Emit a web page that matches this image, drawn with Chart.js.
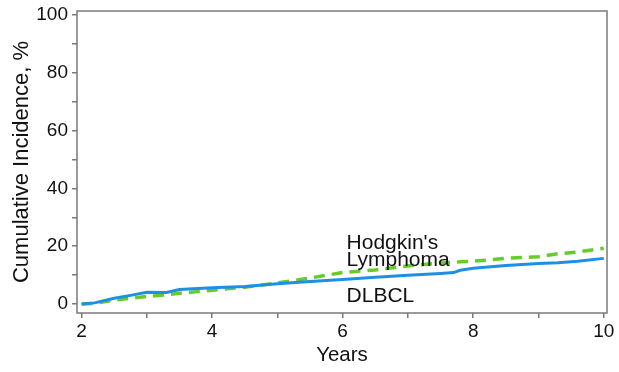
<!DOCTYPE html>
<html>
<head>
<meta charset="utf-8">
<script src="https://cdn.jsdelivr.net/npm/chart.js@4"></script>
<style>
  body { margin: 0; background: #fff; }
  canvas { display: block; }
</style>
</head>
<body>
<canvas id="incidenceChart" width="619" height="372"></canvas>
<script>
const years = [2, 2.2, 2.5, 2.75, 3, 3.3, 3.5, 4, 4.5, 5, 5.5, 6, 6.5, 7, 7.5, 7.7, 7.8, 8, 8.5, 9, 9.3, 9.6, 10];
const dlbcl = [0, 0.4, 2.0, 3.0, 4.1, 4.0, 5.0, 5.6, 6.1, 7.0, 7.8, 8.5, 9.3, 10.0, 10.6, 10.9, 11.7, 12.4, 13.3, 14.0, 14.3, 14.8, 15.8];
const hodgkin = [0, 0.2, 1.4, 2.0, 2.6, 3.2, 3.7, 4.8, 5.8, 7.3, 9.0, 10.9, 11.8, 13.2, 14.2, 14.4, 14.6, 14.8, 15.8, 16.4, 17.4, 18.0, 19.3];
const xTicks = [2, 3, 4, 5, 6, 7, 8, 9, 10];
const yTicks = [0, 10, 20, 30, 40, 50, 60, 70, 80, 90, 100];

const font = "'Liberation Sans', Arial, sans-serif";
const axisGrey = "#7a7a7a";

const toPoints = (vals) => years.map((x, i) => ({ x: x, y: vals[i] }));

// box around the plot, like the original
const frame = {
  id: "frame",
  beforeDatasetsDraw(chart) {
    const { ctx, chartArea: a } = chart;
    ctx.save();
    ctx.strokeStyle = axisGrey;
    ctx.lineWidth = 1.5;
    ctx.strokeRect(a.left, a.top, a.right - a.left, a.bottom - a.top);
    ctx.restore();
  },
};

// curve labels
const labels = {
  id: "labels",
  afterDatasetsDraw(chart) {
    const { ctx } = chart;
    const x = chart.scales.x;
    const y = chart.scales.y;
    ctx.save();
    ctx.fillStyle = "#111";
    ctx.font = "21px " + font;
    ctx.textBaseline = "middle";
    ctx.fillText("Hodgkin's", x.getPixelForValue(6.06), y.getPixelForValue(21.2));
    ctx.fillText("Lymphoma", x.getPixelForValue(6.06), y.getPixelForValue(15.0));
    ctx.fillText("DLBCL", x.getPixelForValue(6.06), y.getPixelForValue(2.6));
    ctx.restore();
  },
};

new Chart(document.getElementById("incidenceChart"), {
  type: "line",
  data: {
    datasets: [
      {
        label: "DLBCL",
        data: toPoints(dlbcl),
        borderColor: "#1e8fe6",
        borderWidth: 3,
        pointRadius: 0,
        tension: 0,
      },
      {
        label: "Hodgkin's Lymphoma",
        data: toPoints(hodgkin),
        borderColor: "#66cc2a",
        borderWidth: 3.5,
        borderDash: [11, 7],
        pointRadius: 0,
        tension: 0,
      },
    ],
  },
  options: {
    responsive: false,
    animation: false,
    layout: { padding: { top: 11, right: 12, left: 0, bottom: 0 } },
    plugins: { legend: { display: false }, tooltip: { enabled: false } },
    scales: {
      x: {
        type: "linear",
        min: 1.93,
        max: 10.05,
        afterBuildTicks: (s) => { s.ticks = xTicks.map((v) => ({ value: v })); },
        afterFit: (s) => { s.height = 59; s.paddingLeft = 0; s.paddingRight = 0; },
        border: { display: false },
        grid: { drawOnChartArea: false, drawTicks: true, tickLength: 5, color: axisGrey, lineWidth: 1.5 },
        ticks: {
          color: "#111",
          font: { family: font, size: 19 },
          padding: 2,
          maxRotation: 0,
          callback: (v) => (v % 2 === 0 ? v : ""),
        },
        title: { display: true, text: "Years", color: "#111", font: { family: font, size: 20.5 }, padding: { top: 0 } },
      },
      y: {
        min: -3.1,
        max: 101.4,
        afterBuildTicks: (s) => { s.ticks = yTicks.map((v) => ({ value: v })); },
        afterFit: (s) => { s.width = 77; s.paddingTop = 0; s.paddingBottom = 0; },
        border: { display: false },
        grid: { drawOnChartArea: false, drawTicks: true, tickLength: 5, color: axisGrey, lineWidth: 1.5 },
        ticks: {
          color: "#111",
          font: { family: font, size: 19 },
          padding: 4,
          callback: (v) => (v % 20 === 0 ? v : ""),
        },
        title: { display: true, text: "Cumulative Incidence, %", color: "#111", font: { family: font, size: 22 }, padding: { top: 9, bottom: 0 } },
      },
    },
  },
  plugins: [frame, labels],
});
</script>
</body>
</html>
